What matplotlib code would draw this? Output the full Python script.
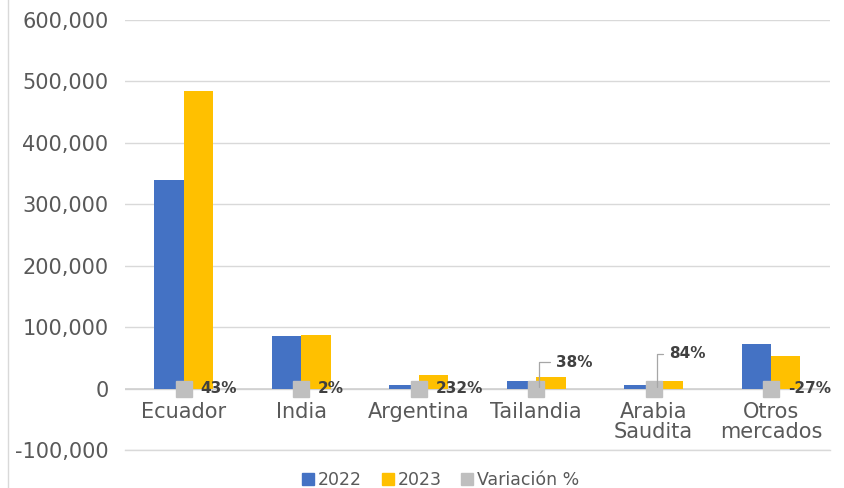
import matplotlib.pyplot as plt
import numpy as np
from matplotlib.lines import Line2D
from matplotlib.ticker import FuncFormatter

# Data
categories = ["Ecuador", "India", "Argentina", "Tailandia", "Arabia\nSaudita", "Otros\nmercados"]
values_2022 = [339000, 85000, 6500, 13000, 6500, 72000]
values_2023 = [484500, 86500, 21500, 18000, 12000, 52500]
variacion = ["43%", "2%", "232%", "38%", "84%", "-27%"]

blue = '#4472C4'
gold = '#FFC000'
grey = '#BFBFBF'
txt = '#595959'

plt.rcParams['font.family'] = ['DejaVu Sans']

fig = plt.figure(figsize=(8.45, 4.88), dpi=100)
ax = fig.add_axes([0.148, 0.078, 0.834, 0.881])

x = np.arange(len(categories))
w = 0.25
ax.bar(x - w / 2, values_2022, w, color=blue, zorder=3)
ax.bar(x + w / 2, values_2023, w, color=gold, zorder=3)
ax.plot(x, np.zeros(len(x)), linestyle='none', marker='s', markersize=11,
        color=grey, zorder=4)

# percentage labels
for i, lab in enumerate(variacion):
    if i in (3, 4):
        dy = 18 if i == 3 else 24
        dx = 12 if i == 3 else 9
        ax.annotate(lab, xy=(x[i] + 0.025, 0.02 * 1e5), xytext=(dx, dy), textcoords='offset points',
                    fontsize=11, fontweight='bold', color='#404040', va='center', ha='left',
                    arrowprops=dict(arrowstyle='-', color='#A6A6A6', lw=0.9,
                                    shrinkA=2, shrinkB=0,
                                    connectionstyle='angle,angleA=180,angleB=90,rad=0'),
                    zorder=5)
    else:
        ax.annotate(lab, xy=(x[i], 0), xytext=(12, 0), textcoords='offset points',
                    fontsize=11, fontweight='bold', color='#404040', va='center', ha='left',
                    zorder=5)

ax.set_ylim(-100000, 600000)
ax.set_xlim(-0.5, len(categories) - 0.5)
ax.set_yticks(np.arange(-100000, 600001, 100000))
ax.yaxis.set_major_formatter(FuncFormatter(lambda v, p: f'{int(v):,}'))
ax.grid(axis='y', color='#D9D9D9', linewidth=1, zorder=0)
ax.axhline(-100000, color='#D9D9D9', linewidth=1, zorder=0, clip_on=False)
ax.axhline(0, color='#D0D0D0', linewidth=1.2, zorder=2)
for s in ax.spines.values():
    s.set_visible(False)
ax.spines['bottom'].set_position(('data', 0))
ax.tick_params(axis='both', length=0, labelsize=15, labelcolor=txt)
ax.tick_params(axis='y', pad=12)
ax.tick_params(axis='x', pad=10)
ax.set_xticks(x)
ax.set_xticklabels(categories, linespacing=0.95)

# chart border line on the left
fig.add_artist(Line2D([8 / 845, 8 / 845], [0, 1], color='#D9D9D9', lw=1))

handles = [Line2D([], [], marker='s', linestyle='none', color=c, markersize=8)
           for c in (blue, gold, grey)]
fig.legend(handles, ['2022', '2023', 'Variación %'], loc='center', bbox_to_anchor=(0.52, 0.017),
           ncol=3, frameon=False, fontsize=12.5, handletextpad=0.05, columnspacing=1.0,
           labelcolor=txt, handlelength=1.0)

plt.savefig('out.png', dpi=100)
